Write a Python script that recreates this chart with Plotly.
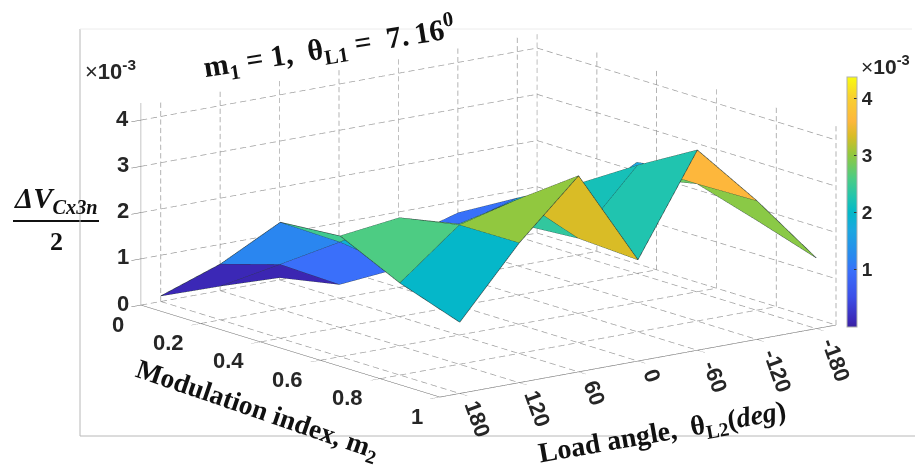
import plotly.graph_objects as go

theta_vals = [180, 120, 60, 0, -60, -120, -180]
m_vals = [0, 0.2, 0.4, 0.6, 0.8, 1.0]
# dV values x 1e-3; rows = m2, columns = theta
row_m00 = [0.12, 0.10, 0.05, 0.10, 0.10, 0.10, 0.12]
row_m02 = [1.21, 0.97, 0.30, 1.00, 1.38, 0.90, 0.90]
row_m04 = [2.51, 1.85, 1.05, 1.74, 2.10, 1.70, 2.40]
row_m06 = [2.61, 2.77, 2.40, 2.17, 2.80, 2.70, 2.60]
row_m08 = [1.99, 3.01, 3.34, 2.26, 3.60, 2.97, 1.95]
row_m10 = [1.54, 3.02, 4.24, 2.19, 4.33, 3.00, 1.53]
Z = [row_m00, row_m02, row_m04, row_m06, row_m08, row_m10]
z_ticks = [0, 1, 2, 3, 4]
theta_labels = ["180", "120", "60", "0", "-60", "-120", "-180"]
m_labels = ["0", "0.2", "0.4", "0.6", "0.8", "1"]
x_lim = [200, -200]
z_lim = [0, 4.37]

parula = [[0.0, "#38229f"], [0.023, "#3b27b5"], [0.12, "#3c4fe8"], [0.22, "#3a6efa"], [0.275, "#2a86f0"],
          [0.39, "#1ba8e0"], [0.458, "#04b8c8"], [0.517, "#20c4af"], [0.595, "#4ccc84"],
          [0.69, "#92c83e"], [0.764, "#d9bc26"], [0.824, "#fdb73c"], [0.92, "#f8d030"], [1.0, "#f9fb0e"]]

nm, nt = len(m_vals), len(theta_vals)
X, Y, ZZ, I, J, K, C = [], [], [], [], [], [], []
for a in range(nm):
    for b in range(nt):
        X.append(theta_vals[b]); Y.append(m_vals[a]); ZZ.append(Z[a][b])
for a in range(nm - 1):
    for b in range(nt - 1):
        p, q, r, s = a*nt+b, (a+1)*nt+b, (a+1)*nt+b+1, a*nt+b+1
        I += [p, q]; J += [q, r]; K += [s, s]
        C += [Z[a][b], Z[a][b]]

fig = go.Figure()
fig.add_trace(go.Mesh3d(x=X, y=Y, z=ZZ, i=I, j=J, k=K, intensity=C, intensitymode="cell",
    colorscale=parula, cmin=0, cmax=4.37, flatshading=True,
    lighting=dict(ambient=1, diffuse=0, specular=0, roughness=1, fresnel=0),
    hoverinfo="skip",
    colorbar=dict(x=847/915, xanchor="left", xpad=0, ypad=0, y=1-77/465, yanchor="top",
                  thickness=10, thicknessmode="pixels", len=250, lenmode="pixels",
                  outlinecolor="#b0b0b0", outlinewidth=1, tickmode="array", tickvals=[1,2,3,4],
                  ticks="inside", ticklen=3, tickcolor="#333",
                  tickfont=dict(family="Liberation Sans", size=19, color="#262626", weight="bold"))))

# surface edges
ex, ey, ez = [], [], []
for a in range(nm):
    ex += theta_vals + [None]; ey += [m_vals[a]]*nt + [None]; ez += Z[a] + [None]
for b in range(nt):
    ex += [theta_vals[b]]*nm + [None]; ey += m_vals + [None]; ez += [Z[a][b] for a in range(nm)] + [None]
fig.add_trace(go.Scatter3d(x=ex, y=ey, z=ez, mode="lines", line=dict(color="#2a3a3a", width=1.2),
                           hoverinfo="skip", showlegend=False))

# dashed grid on floor and two back walls: each line is cut into short dashes
gx, gy, gz = [], [], []
def dashed(p0, p1, n):
    for k in range(n):
        t0, t1 = k / n, (k + 0.62) / n
        gx.extend([p0[0] + (p1[0]-p0[0])*t0, p0[0] + (p1[0]-p0[0])*t1, None])
        gy.extend([p0[1] + (p1[1]-p0[1])*t0, p0[1] + (p1[1]-p0[1])*t1, None])
        gz.extend([p0[2] + (p1[2]-p0[2])*t0, p0[2] + (p1[2]-p0[2])*t1, None])
for t in theta_vals:
    dashed((t, 0, 0), (t, 1, 0), 31)
    dashed((t, 0, 0), (t, 0, z_lim[1]), 24)
for m in m_vals:
    dashed((x_lim[0], m, 0), (x_lim[1], m, 0), 40)
    dashed((x_lim[1], m, 0), (x_lim[1], m, z_lim[1]), 24)
for v in z_ticks:
    dashed((x_lim[0], 0, v), (x_lim[1], 0, v), 40)
    dashed((x_lim[1], 0, v), (x_lim[1], 1, v), 31)
fig.add_trace(go.Scatter3d(x=gx, y=gy, z=gz, mode="lines",
                           line=dict(color="#9a9a9a", width=1.4),
                           hoverinfo="skip", showlegend=False))

def axis(rng, vals):
    return dict(range=rng, showgrid=False, zeroline=False, showbackground=False, showline=True,
                linecolor="#666666", linewidth=1, ticks="outside", ticklen=12, tickcolor="#666666",
                tickmode="array", tickvals=vals, showticklabels=False,
                title=dict(text=""), showspikes=False)

tick_font = dict(family="Liberation Sans", size=22, color="#262626", weight="bold")
scene_ann = []
for v in z_ticks:
    scene_ann.append(dict(x=x_lim[0], y=0, z=v, text=str(v), showarrow=False, font=tick_font,
                          xanchor="center", yanchor="middle", xshift=-18, yshift=2))
for m, s in zip(m_vals, m_labels):
    scene_ann.append(dict(x=x_lim[0], y=m, z=0, text=s, showarrow=False, font=tick_font,
                          xanchor="right", yanchor="middle", xshift=-15, yshift=-19))
for t, s in zip(theta_vals, theta_labels):
    half = len(s) * 12 / 2
    scene_ann.append(dict(x=t, y=1, z=0, text=s, showarrow=False, font=tick_font, textangle=70,
                          xanchor="center", yanchor="middle",
                          xshift=12 + half*0.34, yshift=-(9 + half*0.94)))

serif = "Liberation Serif"
black = "#111111"
ann = [
    dict(x=329/915, y=1-47/465, text="<b>m<sub>1</sub> = 1,  θ<sub>L1</sub> =  7.\u200916<sup>0</sup></b>",
         textangle=-9, font=dict(family=serif, size=30, color=black)),
    dict(x=257/915, y=1-410/465, text="<b>Modulation index, m<sub>2</sub></b>",
         textangle=19, font=dict(family=serif, size=27.5, color=black)),
    dict(x=662/915, y=1-433/465, text="<b>Load angle,  θ<sub>L2</sub>(<i>deg</i>)</b>",
         textangle=-10, font=dict(family=serif, size=28, color=black)),
    dict(x=56/915, y=1-200/465, text="<b><i>ΔV<sub>Cx3n</sub></i></b>",
         font=dict(family=serif, size=29, color=black)),
    dict(x=56/915, y=1-241/465, text="<b>2</b>", font=dict(family=serif, size=26, color=black)),
    dict(x=110/915, y=1-70/465, text="×<b>10<sup>-3</sup></b>",
         font=dict(family="Liberation Sans", size=22, color="#262626")),
    dict(x=885/915, y=1-65/465, text="×<b>10<sup>-3</sup></b>",
         font=dict(family="Liberation Sans", size=21, color="#262626")),
]
for a in ann:
    a.update(xref="paper", yref="paper", showarrow=False, xanchor="center", yanchor="middle")

shapes = [
    dict(type="line", xref="paper", yref="paper", x0=13/915, x1=99/915, y0=1-221/465, y1=1-221/465,
         line=dict(color=black, width=2)),
    dict(type="line", xref="paper", yref="paper", x0=80/915, x1=80/915, y0=1-29/465, y1=1-436/465,
         line=dict(color="#b8b8b8", width=1)),
    dict(type="line", xref="paper", yref="paper", x0=80/915, x1=912/915, y0=1-29/465, y1=1-29/465,
         line=dict(color="#ececec", width=1)),
    dict(type="line", xref="paper", yref="paper", x0=80/915, x1=1, y0=1-436/465, y1=1-436/465,
         line=dict(color="#b8b8b8", width=1)),
]

fig.update_layout(
    width=915, height=465, margin=dict(l=0, r=0, t=0, b=0), paper_bgcolor="white",
    showlegend=False, annotations=ann, shapes=shapes,
    scene=dict(
        domain=dict(x=[62/915, 1], y=[1-428/465, 1]),
        aspectmode="manual", aspectratio=dict(x=2.335, y=2.292, z=0.972),
        xaxis=axis(x_lim, theta_vals),
        yaxis=axis([1, 0], m_vals),
        zaxis=axis(z_lim, z_ticks),
        annotations=scene_ann,
        camera=dict(projection=dict(type="orthographic"),
                    up=dict(x=0, y=0, z=1), center=dict(x=0, y=0, z=0),
                    eye=dict(x=-0.592*2, y=-0.770*2, z=0.2365*2)),
    ),
)
fig.write_html("out.html", config={"displayModeBar": False},
               post_script="document.body.style.margin='0';document.documentElement.style.overflow='hidden';")
